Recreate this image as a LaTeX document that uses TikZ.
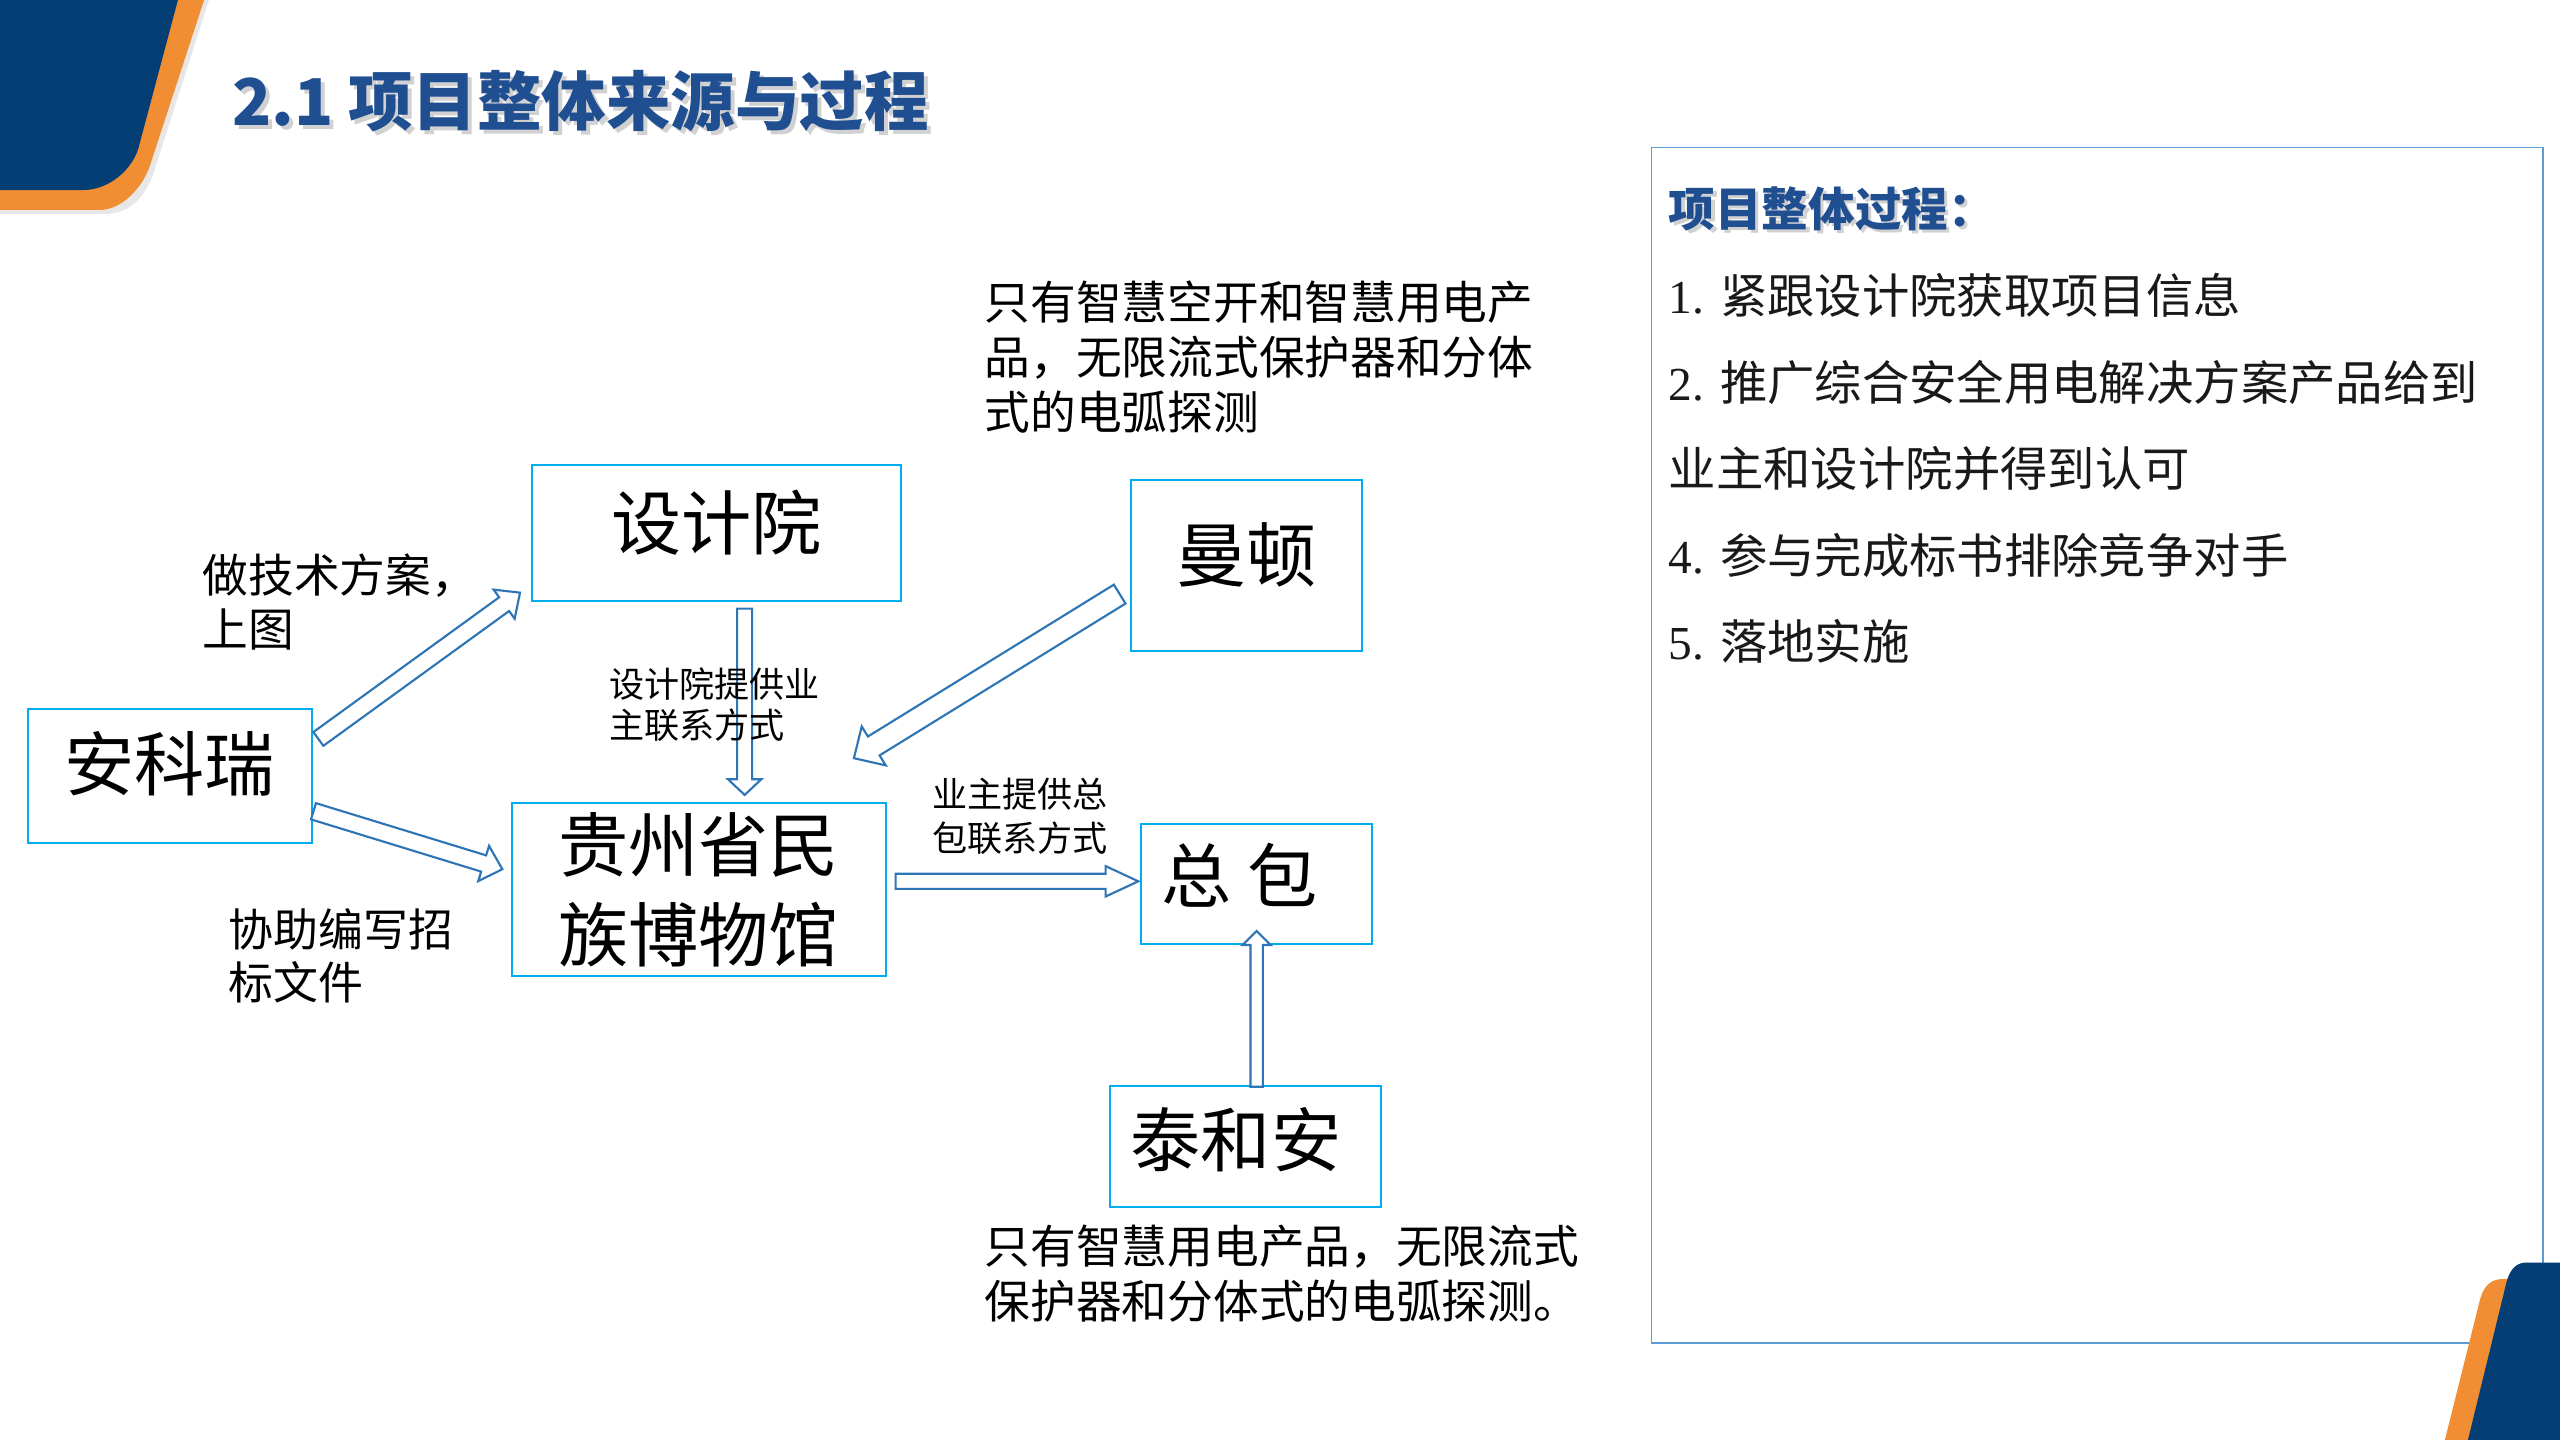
\documentclass[tikz,border=0pt]{standalone}
\usepackage{fontspec}
\newfontfamily\cjk{Noto Sans CJK SC}
\newfontfamily\lser{Liberation Serif}
\usetikzlibrary{calc}
\definecolor{navy}{HTML}{043E74}
\definecolor{orng}{HTML}{F18D33}
\definecolor{titleblue}{HTML}{1F4E91}
\definecolor{boxcyan}{HTML}{00AEEF}
\definecolor{arrblue}{HTML}{2E75B6}
\definecolor{panelblue}{HTML}{5B9BD5}
\tikzset{
  box/.style={draw=boxcyan, line width=1.2pt, inner sep=0pt, align=center,
    font=\cjk\fontsize{43}{55}\selectfont},
  txtup/.style={text height=37pt, text depth=#1},
  arrowshape/.style={draw=arrblue, line width=1.3pt, fill=white, line join=miter},
  lbl/.style={inner sep=0pt, anchor=north west, align=left},
  listitem/.style={inner sep=0pt, anchor=west, font=\cjk\fontsize{29}{29}\selectfont, text=black!90},
}
% hollow block arrow: #1 tail, #2 tip, #3 half shaft, #4 half head, #5 head length
\newcommand{\blockarr}[5]{%
  \draw[arrowshape] ($(#1)!#3!90:(#2)$)
    -- ($(#2)!#5!(#1)!#3!-90:(#1)$)
    -- ($(#2)!#5!(#1)!#4!-90:(#1)$)
    -- (#2)
    -- ($(#2)!#5!(#1)!#4!90:(#1)$)
    -- ($(#2)!#5!(#1)!#3!90:(#1)$)
    -- ($(#1)!#3!-90:(#2)$) -- cycle;}
\begin{document}
\begin{tikzpicture}[x=1pt,y=-1pt]
\useasboundingbox (0,0) rectangle (1568,882);
\fill[white] (0,0) rectangle (1568,882);

% top-left decoration
\fill[black!30, opacity=0.3] (0,0) -- (128,0) -- (95,103) .. controls (91,116) and (83,131) .. (64,131) -- (0,131) -- cycle;
\fill[orng] (0,0) -- (125,0) -- (92,101) .. controls (87.7,114.3) and (75,128.6) .. (61,128.6) -- (0,128.6) -- cycle;
\fill[navy] (0,0) -- (109,0) -- (85,90) .. controls (81.4,103.5) and (67,116.4) .. (51,116.4) -- (0,116.4) -- cycle;

% title
\node[anchor=west, inner sep=0pt, font=\cjk\bfseries\fontsize{39.5}{40}\selectfont, text=black!18] (titleshadow) at (144.5,64.5) {2.1 项目整体来源与过程};
\node[anchor=west, inner sep=0pt, font=\cjk\bfseries\fontsize{39.5}{40}\selectfont, text=titleblue] (title) at (142,62) {2.1 项目整体来源与过程};

% right panel
\node[draw=panelblue, line width=0.9pt, minimum width=546pt, minimum height=732pt, inner sep=0pt, anchor=north west] (panel) at (1011,90) {};
\node[anchor=west, inner sep=0pt, font=\cjk\bfseries\fontsize{28.5}{29}\selectfont, text=black!18] (pheadshadow) at (1024,130) {项目整体过程：};
\node[anchor=west, inner sep=0pt, font=\cjk\bfseries\fontsize{28.5}{29}\selectfont, text=titleblue] (phead) at (1022,128) {项目整体过程：};
\node[listitem] (li1) at (1022,181) {{\lser 1. }紧跟设计院获取项目信息};
\node[listitem] (li2) at (1022,234) {{\lser 2. }推广综合安全用电解决方案产品给到};
\node[listitem] (li3) at (1022,287) {业主和设计院并得到认可};
\node[listitem] (li4) at (1022,340) {{\lser 4. }参与完成标书排除竞争对手};
\node[listitem] (li5) at (1022,393) {{\lser 5. }落地实施};

% bottom-right decoration
\fill[orng] (1497.5,882) -- (1519,796) .. controls (1521,789) and (1524,784.5) .. (1531,783.5) -- (1568,782) -- (1568,882) -- cycle;
\fill[navy] (1511.6,882) -- (1535.3,785) .. controls (1537,779) and (1540,774) .. (1546,773.4) -- (1568,773.4) -- (1568,882) -- cycle;

% boxes
\node[box, txtup=16.8pt, minimum width=226pt, minimum height=83pt] (sjy) at (439,326.5) {设计院};
\node[box, txtup=17.8pt, minimum width=141.5pt, minimum height=105pt] (md) at (763.3,346.5) {曼顿};
\node[box, txtup=18.8pt, minimum width=174pt, minimum height=82.5pt] (akr) at (104,475.3) {安科瑞};
\node[box, minimum width=229pt, minimum height=106pt] (gz) at (428,545) {贵州省民\\族博物馆};
\node[box, txtup=14.6pt, minimum width=141.5pt, minimum height=73.6pt] (zb) at (769.4,541.4) {总 包\hspace{20pt}};
\node[box, txtup=11.8pt, minimum width=166pt, minimum height=74pt] (tha) at (763,702) {泰和安\hspace{12pt}};

% arrow end points
\coordinate (a1s) at (195,452.6); \coordinate (a1e) at (318.5,363);
\coordinate (a2s) at (192,496.9); \coordinate (a2e) at (307.7,532.4);
\coordinate (a3s) at (456.1,372.8); \coordinate (a3e) at (456.1,486.9);
\coordinate (a4s) at (685.8,363.9); \coordinate (a4e) at (523,464.4);
\coordinate (a5s) at (548.6,539.8); \coordinate (a5e) at (697.2,539.8);
\coordinate (a6s) at (769.7,665.6); \coordinate (a6e) at (769.7,570.2);

\blockarr{a1s}{a1e}{5.2pt}{11pt}{12pt}
\blockarr{a2s}{a2e}{5.2pt}{11.3pt}{12pt}
\blockarr{a3s}{a3e}{4.6pt}{10.2pt}{9.6pt}
\blockarr{a4s}{a4e}{6.8pt}{14pt}{14.3pt}
\blockarr{a5s}{a5e}{4.6pt}{9.3pt}{20pt}
\blockarr{a6s}{a6e}{3.8pt}{8.6pt}{8.6pt}

% labels (drawn over the arrows)
\node[lbl, font=\cjk\fontsize{28}{33.5}\selectfont] (l1) at (603,172) {只有智慧空开和智慧用电产\\品，无限流式保护器和分体\\式的电弧探测};
\node[lbl, font=\cjk\fontsize{28}{33}\selectfont] (l2) at (124,339) {做技术方案，\\上图};
\node[lbl, font=\cjk\fontsize{21.5}{25.5}\selectfont] (l3) at (373,408.5) {设计院提供业\\主联系方式};
\node[lbl, font=\cjk\fontsize{21.5}{26.5}\selectfont] (l4) at (571,476.5) {业主提供总\\包联系方式};
\node[lbl, font=\cjk\fontsize{27.5}{33}\selectfont] (l5) at (140,556) {协助编写招\\标文件};
\node[lbl, font=\cjk\fontsize{28}{34}\selectfont] (l6) at (603,750) {只有智慧用电产品，无限流式\\保护器和分体式的电弧探测。};
\end{tikzpicture}
\end{document}
